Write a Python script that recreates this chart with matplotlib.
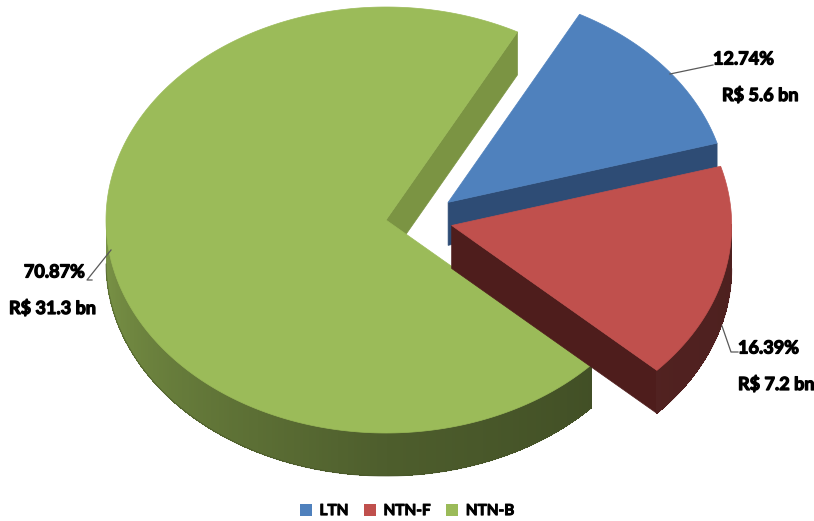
import numpy as np
import matplotlib
matplotlib.use("Agg")
import matplotlib.pyplot as plt
import matplotlib.patheffects as pe
from matplotlib.patches import Polygon, Patch
from matplotlib.collections import PolyCollection
from matplotlib.colors import to_rgb

# ---- data ----
categories = ["LTN", "NTN-F", "NTN-B"]
shares = [12.74, 16.39, 70.87]
amounts_bn = [5.6, 7.2, 31.3]
pct_labels = ["12.74%", "16.39%", "70.87%"]
amount_labels = ["R$ 5.6 bn", "R$ 7.2 bn", "R$ 31.3 bn"]

# ---- style / layout ----
colors = ["#4f81bd", "#c0504d", "#9bbb59"]
face_colors = ["#2e4c75", "#4e1d1c", "#7b9443"]
explode = [0.32, 0.27, 0.0]
start_angle = 62.0
cx, cy = 386.0, 220.0
rx, ry = 280.0, 213.0
depth = 43.0
R_expl, k_expl = 250.0, 0.35
FONT = "Lato"

plt.rcParams['font.family'] = [FONT, 'DejaVu Sans']

fig = plt.figure(figsize=(8.14, 5.21), dpi=100)
ax = fig.add_axes([0, 0, 1, 1])
ax.set_xlim(0, 814)
ax.set_ylim(521, 0)
ax.axis('off')


def wall_factor(t):
    t = t % 360
    return np.interp(t, [180, 270, 320, 360], [0.80, 0.50, 0.42, 0.40])


def pt(c, t):
    r = np.radians(t)
    return np.array([c[0] + rx * np.cos(r), c[1] - ry * np.sin(r)])


fr = np.array(shares) / sum(shares) * 360.0
bounds = []
a = start_angle
for f in fr:
    bounds.append((a - f, a))
    a -= f

centers = []
for i, (t1, t2) in enumerate(bounds):
    m = np.radians((t1 + t2) / 2)
    off = explode[i] * R_expl * np.array([np.cos(m), -k_expl * np.sin(m)])
    centers.append(np.array([cx, cy]) + off)

dvec = np.array([0, depth])

order = [2, 0, 1]
for i in order:
    t1, t2 = bounds[i]
    c = centers[i]
    col = np.array(to_rgb(colors[i]))
    for t, nrm in ((t2, t2 + 90), (t1, t1 - 90)):
        if np.sin(np.radians(nrm)) < 0:
            p = pt(c, t)
            ax.add_patch(Polygon([c, p, p + dvec, c + dvec], closed=True,
                                 facecolor=face_colors[i], edgecolor=face_colors[i], lw=0.5))
    n = max(2, int(abs(t2 - t1) * 1.5))
    ts = np.linspace(t1, t2, n)
    polys, fcs = [], []
    for k in range(len(ts) - 1):
        ta, tb = ts[k], ts[k + 1]
        tm = (ta + tb) / 2
        if np.sin(np.radians(tm)) < 0:
            tb2 = min(tb + 0.4, t2)
            pa, pb = pt(c, ta), pt(c, tb2)
            polys.append([pa, pb, pb + dvec, pa + dvec])
            fcs.append(np.clip(col * wall_factor(tm), 0, 1))
    if polys:
        ax.add_collection(PolyCollection(polys, facecolors=fcs, edgecolors='none',
                                         linewidths=0, antialiased=False))
        tv = [t for t in np.linspace(t1, t2, 400) if np.sin(np.radians(t)) < 0]
        if tv:
            bot = np.array([pt(c, t) + dvec for t in tv])
            ax.plot(bot[:, 0], bot[:, 1], color=tuple(np.clip(col * 0.45, 0, 1)), lw=0.8, alpha=0.6)
    arc = np.array([pt(c, t) for t in np.linspace(t1, t2, 300)])
    ax.add_patch(Polygon(np.vstack([c, arc]), closed=True, facecolor=colors[i],
                         edgecolor=colors[i], lw=0.5))

# ---- labels ----
heavy = [pe.withStroke(linewidth=0.9, foreground='black')]
tkw = dict(fontsize=13, fontweight='bold', color='black', path_effects=heavy)
lc = '#595959'
ax.plot([670, 713], [74, 65], color=lc, lw=0.9)
ax.text(713, 59, pct_labels[0], ha='left', va='center', **tkw)
ax.text(722, 95, amount_labels[0], ha='left', va='center', **tkw)
ax.plot([722, 731, 738], [326, 352, 352], color=lc, lw=0.9)
ax.text(738, 348, pct_labels[1], ha='left', va='center', **tkw)
ax.text(738, 384, amount_labels[1], ha='left', va='center', **tkw)
ax.plot([111, 87, 92], [250, 280, 280], color=lc, lw=0.9)
ax.text(85, 272, pct_labels[2], ha='right', va='center', **tkw)
ax.text(96, 308, amount_labels[2], ha='right', va='center', **tkw)

handles = [Patch(facecolor=c, edgecolor='none') for c in colors]
leg = fig.legend(handles, categories, loc='center', bbox_to_anchor=(0.5, 1 - 511 / 521),
                 ncol=3, frameon=False, handlelength=0.8, handleheight=0.8,
                 handletextpad=0.5, columnspacing=1.0,
                 prop=dict(weight='bold', size=11, family=FONT))
for txt in leg.get_texts():
    txt.set_path_effects([pe.withStroke(linewidth=0.7, foreground='black')])

fig.savefig("out.png", dpi=100)
